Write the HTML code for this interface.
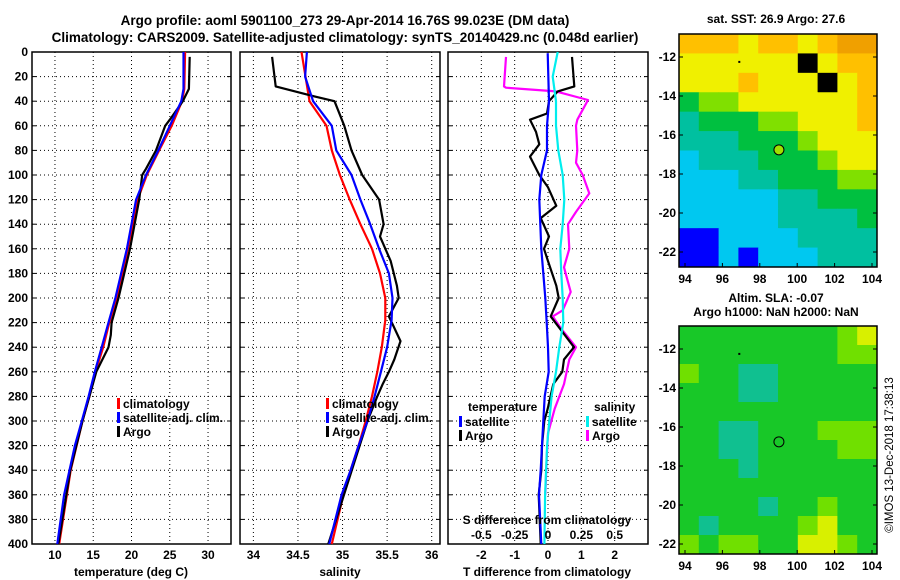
<!DOCTYPE html>
<html><head><meta charset="utf-8"><style>
html,body{margin:0;padding:0;background:#fff;}
svg{display:block;font-family:"Liberation Sans",sans-serif;font-weight:bold;}
</style></head><body>
<svg id="c" width="900" height="580" viewBox="0 0 900 580" xmlns="http://www.w3.org/2000/svg">
<text x="345" y="25" font-size="13.5" text-anchor="middle">Argo profile: aoml 5901100_273 29-Apr-2014 16.76S 99.023E (DM data)</text>
<text x="345" y="42" font-size="13.5" text-anchor="middle">Climatology: CARS2009. Satellite-adjusted climatology: synTS_20140429.nc (0.048d earlier)</text>
<text x="776" y="23" font-size="12" text-anchor="middle">sat. SST: 26.9 Argo: 27.6</text>
<text x="776" y="302" font-size="12" text-anchor="middle">Altim. SLA: -0.07</text>
<text x="776" y="316" font-size="12" text-anchor="middle">Argo h1000: NaN h2000: NaN</text>
<text transform="translate(893,455) rotate(-90)" font-size="11.5" font-weight="normal" text-anchor="middle">©IMOS 13-Dec-2018 17:38:13</text>
<g id="g"></g>
</svg>
<script>
// ---- data ----
const depthTicks=[0,20,40,60,80,100,120,140,160,180,200,220,240,260,280,300,320,340,360,380,400];
const tempTicks=[10,15,20,25,30];
const salTicks=[34,34.5,35,35.5,36];
const tdiffTicks=[-2,-1,0,1,2];
const sdiffTicks=[-0.5,-0.25,0,0.25,0.5];
const sdiffLabels=["-0.5","-0.25","0","0.25","0.5"];

const tClimDepth=[0,30,40,60,80,100,120,140,160,180,200,220,240,260,280,300,340,400];
const tClim=[27.0,26.9,26.6,25.25,23.6,22.0,20.8,20.2,19.5,18.85,18.06,17.1,16.3,15.3,14.5,13.6,12.05,10.55];
const tSatDepth=[0,30,40,60,80,100,120,140,160,200,220,240,260,280,300,320,340,360,400];
const tSat=[26.8,26.8,26.5,25.0,23.5,21.9,20.6,20.0,19.4,17.9,17.0,16.1,15.2,14.4,13.5,12.6,11.9,11.2,10.3];
const tArgoDepth=[4,30,40,55,60,80,95,100,120,140,160,200,220,230,240,260,300,340,400];
const tArgo=[27.6,27.5,26.7,25.0,24.4,23.2,21.9,21.4,21.0,20.4,19.8,18.3,17.4,17.3,17.0,15.4,13.6,12.0,10.45];

const sClimDepth=[0,40,60,80,100,120,140,160,180,200,218,240,260,280,300,320,340,360,400];
const sClim=[34.54,34.63,34.82,34.88,34.97,35.08,35.20,35.33,35.42,35.48,35.48,35.44,35.39,35.33,35.26,35.18,35.09,35.01,34.88];
const sSatDepth=[0,20,40,60,80,100,120,140,160,180,200,218,240,260,280,300,320,340,360,400];
const sSat=[34.60,34.58,34.67,34.88,34.93,35.10,35.20,35.31,35.41,35.52,35.56,35.55,35.50,35.43,35.36,35.28,35.18,35.09,34.99,34.85];
const sArgoDepth=[4,28,36,40,60,80,100,120,140,150,170,190,200,215,235,250,260,270,280,300,400];
const sArgo=[34.21,34.25,34.68,34.91,35.02,35.10,35.22,35.41,35.46,35.42,35.54,35.61,35.63,35.52,35.65,35.58,35.52,35.45,35.39,35.28,34.84];

const tdSatDepth=[1,40,60,80,100,120,160,200,220,240,260,280,300,340,360,400];
const tdSat=[-0.01,0.03,-0.03,-0.03,-0.2,-0.26,-0.2,-0.08,-0.04,0,0.02,-0.1,-0.14,-0.22,-0.27,-0.2];
const tdArgoDepth=[4,28,32,40,50,55,65,75,85,100,110,125,135,150,160,170,190,200,215,240,250,260,270,290,300,320,340,360,400];
const tdArgo=[0.72,0.79,0.29,0.03,-0.03,-0.54,-0.36,-0.26,-0.54,-0.26,0.0,0.25,-0.22,0.03,-0.12,0,0.25,0.32,0.08,0.78,0.48,0.43,0.16,-0.01,-0.11,-0.18,-0.2,-0.28,-0.22];
const sdSatDepth=[0,20,40,60,80,100,120,140,160,180,200,220,240,260,280,300,320,360,400];
const sdSat=[0.073,0.035,0.06,0.06,0.077,0.11,0.122,0.11,0.092,0.1,0.11,0.115,0.085,0.06,0.027,0.01,-0.007,-0.022,-0.027];
const sdArgoDepth=[4,28,29,32,39,55,60,80,90,100,115,130,140,160,175,195,210,215,225,240,250,270,290,310,330,360];
const sdArgo=[-0.315,-0.33,-0.315,0.06,0.30,0.22,0.21,0.22,0.21,0.26,0.31,0.21,0.15,0.16,0.12,0.17,0.11,0.035,0.1,0.21,0.16,0.12,0.05,0.0,-0.01,-0.02];

const lonTicks=[94,96,98,100,102,104];
const latTicks=[-12,-14,-16,-18,-20,-22];
const sstGrid=[
[6,6,6,5,6,6,5,6,7,7],
[5,5,5,5,5,5,8,5,6,6],
[5,5,5,6,5,5,5,8,5,6],
[3,4,4,5,5,5,5,5,5,6],
[2,3,3,3,4,4,5,5,5,6],
[2,2,2,3,3,3,4,5,5,5],
[1,2,2,2,3,3,3,4,5,5],
[1,1,1,2,2,3,3,3,4,4],
[1,1,1,1,1,2,2,3,3,3],
[1,1,1,1,1,2,2,2,2,3],
[0,0,1,1,1,1,2,2,2,2],
[0,0,1,0,1,1,1,2,2,2]];
const slaGrid=[
[3,3,3,3,3,3,3,3,4,5],
[3,3,3,3,3,3,3,3,4,4],
[4,3,3,2,2,3,3,3,3,3],
[3,3,3,2,2,3,3,3,3,3],
[3,3,3,3,3,3,3,3,3,3],
[3,3,2,2,3,3,3,4,4,4],
[3,3,2,2,3,3,3,3,4,4],
[3,3,3,2,3,3,3,3,3,3],
[3,3,3,3,3,3,3,3,3,3],
[3,3,3,3,2,3,3,4,3,3],
[3,2,3,3,3,3,4,5,3,3],
[4,3,4,4,3,3,5,5,4,3]];
const argoLon=99.023, argoLat=-16.76;

// ---- rendering ----
const NS="http://www.w3.org/2000/svg";
const G=document.getElementById('g');
function mk(tag,attrs,parent){const e=document.createElementNS(NS,tag);for(const k in attrs)e.setAttribute(k,attrs[k]);(parent||G).appendChild(e);return e;}
function txt(x,y,s,anchor,size,parent){const t=mk('text',{x:x,y:y,'font-size':size||12,'text-anchor':anchor||'middle'},parent);t.textContent=s;return t;}
const Y0=52,Y1=544;
const yD=d=>Y0+(d/400)*(Y1-Y0);
const P1={x0:32,x1:231,v0:7,v1:33};
const P2={x0:240,x1:440,v0:33.85,v1:36.093};
const P3={x0:448,x1:648,v0:-3,v1:3};
const P3s={x0:448,x1:648,v0:-0.75,v1:0.75};
const xf=P=>v=>P.x0+(v-P.v0)/(P.v1-P.v0)*(P.x1-P.x0);

function panel(P,ticks,labels,name){
  const g=mk('g',{});
  
  
  const X=xf(P);
  depthTicks.forEach(d=>{if(d>0&&d<400){const l=mk('line',{x1:P.x0,x2:P.x1,y1:yD(d),y2:yD(d),stroke:'#000','stroke-dasharray':'1,3'},g);
    
    
    mk('line',{x1:P.x0,x2:P.x0+4,y1:yD(d),y2:yD(d),stroke:'#000'},g);mk('line',{x1:P.x1-4,x2:P.x1,y1:yD(d),y2:yD(d),stroke:'#000'},g);}});
  ticks.forEach((v,i)=>{const x=X(v);
    const l=mk('line',{x1:x,x2:x,y1:Y0,y2:Y1,stroke:'#000','stroke-dasharray':'1,3'},g);
    
    
    if(labels){const t=txt(x,559,labels[i],'middle',12,g);
      
      }});
  const r=mk('rect',{x:P.x0,y:Y0,width:P.x1-P.x0,height:Y1-Y0,fill:'none',stroke:'#000','stroke-width':1.5},g);
  
  
  return g;
}
const g1=panel(P1,tempTicks,tempTicks.map(String),'temperature-panel');
const g2=panel(P2,salTicks,salTicks.map(String),'salinity-panel');
const g3=panel(P3,tdiffTicks,tdiffTicks.map(String),'difference-panel');
depthTicks.forEach(d=>{const t=txt(28,yD(d)+4,String(d),'end',12);
  
  });
let t;
t=txt(131,576,'temperature (deg C)');
t=txt(340,576,'salinity');
t=txt(547,576,'T difference from climatology');
const Xs3=xf(P3s);
sdiffTicks.forEach((v,i)=>{const t=txt(Xs3(v),539,sdiffLabels[i]);
  
  });
t=txt(547,524,'S difference from climatology');

function series(P,vals,depths,color,name,parent){
  const X=xf(P);
  const pts=vals.map((v,i)=>X(v).toFixed(1)+','+yD(depths[i]).toFixed(1)).join(' ');
  const p=mk('polyline',{points:pts,fill:'none',stroke:color,'stroke-width':2.2,'stroke-linejoin':'round'},parent);
  
  
}
series(P1,tClim,tClimDepth,'#f00','temp-climatology-line',g1);
series(P1,tArgo,tArgoDepth,'#000','temp-argo-line',g1);
series(P1,tSat,tSatDepth,'#00f','temp-satellite-line',g1);
series(P2,sClim,sClimDepth,'#f00','sal-climatology-line',g2);
series(P2,sArgo,sArgoDepth,'#000','sal-argo-line',g2);
series(P2,sSat,sSatDepth,'#00f','sal-satellite-line',g2);
series(P3s,sdArgo,sdArgoDepth,'#f0f','sdiff-argo-line',g3);
series(P3,tdArgo,tdArgoDepth,'#000','tdiff-argo-line',g3);
series(P3s,sdSat,sdSatDepth,'#0ee','sdiff-satellite-line',g3);
series(P3,tdSat,tdSatDepth,'#00f','tdiff-satellite-line',g3);

function leg(x,y,color,label,name){
  const g=mk('g',{});
  
  
  mk('rect',{x:x,y:y-9,width:3,height:11,fill:color},g);
  txt(x+6,y+1,label,'start',12,g);
}
leg(117,407,'#f00','climatology','legend-climatology');
leg(117,421,'#00f','satellite-adj. clim.','legend-satellite-temp');
leg(117,435,'#000','Argo','legend-argo-temp');
leg(326,407,'#f00','climatology','legend-climatology-sal');
leg(326,421,'#00f','satellite-adj. clim.','legend-satellite-sal');
leg(326,435,'#000','Argo','legend-argo-sal');
t=txt(468,411,'temperature','start');
t=txt(594,411,'salinity','start');
leg(459,425,'#00f','satellite','legend-tdiff-satellite');
leg(459,439,'#000','Argo','legend-tdiff-argo');
leg(586,425,'#0ee','satellite','legend-sdiff-satellite');
leg(586,439,'#f0f','Argo','legend-sdiff-argo');

// maps
const sstColors=['#0000ff','#00c8f0','#00c0a0','#00c040','#80e000','#f0f000','#ffc000','#f0a000','#000000'];
const slaColors=['#0000ff','#00c8f0','#10c090','#18c828','#70e000','#d8f000'];
function map(y0,y1,grid,colors,name,fillMarker){
  const x0=679,x1=877;
  const g=mk('g',{});
  
  
  const lonX=l=>685+(l-94)*18.7;
  const latLy=y0+23;
  const latY=l=>latLy+(-12-l)*19.5;
  const rows=grid.length,cols=grid[0].length,cw=(x1-x0)/cols,ch=(y1-y0)/rows;
  grid.forEach((row,r)=>row.forEach((v,c)=>{
    const cell=mk('rect',{x:x0+c*cw,y:y0+r*ch,width:cw+0.5,height:ch+0.5,fill:colors[v]},g);
    
    
  }));
  mk('rect',{x:x0,y:y0,width:x1-x0,height:y1-y0,fill:'none',stroke:'#000','stroke-width':1.5},g);
  lonTicks.forEach(l=>{mk('line',{x1:lonX(l),x2:lonX(l),y1:y1,y2:y1-4,stroke:'#000'},g);
    const t=txt(lonX(l),y1+16,String(l),'middle',12,g);
    
    });
  latTicks.forEach(l=>{mk('line',{x1:x0,x2:x0+4,y1:latY(l),y2:latY(l),stroke:'#000'},g);mk('line',{x1:x1,x2:x1-4,y1:latY(l),y2:latY(l),stroke:'#000'},g);
    const t=txt(x0-3,latY(l)+4,String(l),'end',12,g);
    
    });
  const m=mk('circle',{cx:lonX(argoLon),cy:latY(argoLat),r:5,fill:fillMarker,stroke:'#000','stroke-width':1},g);
  
  
  mk('rect',{x:lonX(96.85),y:latY(-12.2),width:2,height:2,fill:'#000'},g);
}
map(34,267,sstGrid,sstColors,'sst-map','#a0e000');
map(326,554,slaGrid,slaColors,'sla-map','none');
</script>
</body></html>
